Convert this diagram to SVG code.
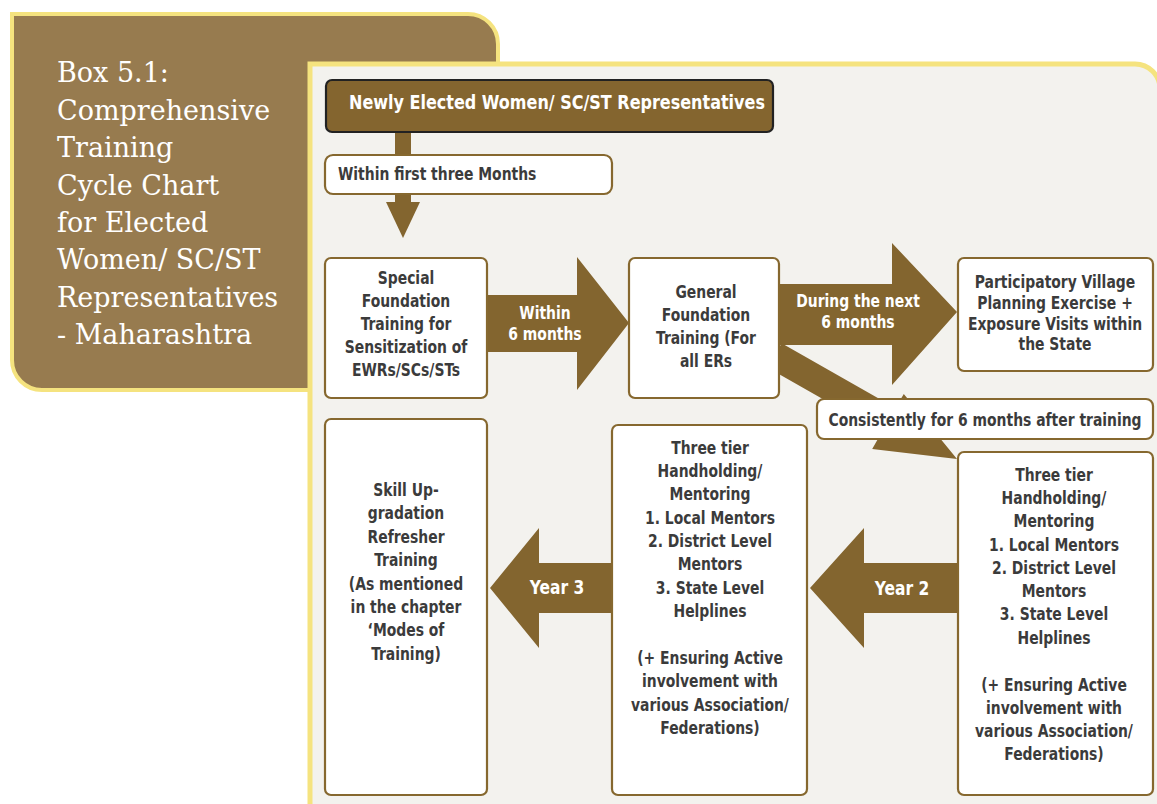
<svg xmlns="http://www.w3.org/2000/svg" width="1157" height="804" viewBox="0 0 1157 804">
<style>
.bx{fill:#ffffff;stroke:#86682f;stroke-width:2.2}
.ar{fill:#83652f}
.t{font-family:"DejaVu Sans Condensed","DejaVu Sans",sans-serif;font-weight:bold;font-size:18px;fill:#3b3b3b;text-anchor:middle}
.w{fill:#ffffff}
.s{text-anchor:start}
.ttl{font-family:"DejaVu Serif","Liberation Serif",serif;font-size:27px;fill:#ffffff}
</style>
<rect width="1157" height="804" fill="#ffffff"/>
<g id="title-box">
<path d="M12,14 H468 A30,30 0 0 1 498,44 V390 H42 A30,30 0 0 1 12,360 Z" fill="#977b4f" stroke="#f5e37f" stroke-width="4"/>
<text class="ttl" x="57"><tspan x="57" y="82">Box  5.1:</tspan><tspan x="57" y="120">Comprehensive</tspan><tspan x="57" y="157">Training</tspan><tspan x="57" y="195">Cycle Chart</tspan><tspan x="57" y="232">for Elected</tspan><tspan x="57" y="269">Women/ SC/ST</tspan><tspan x="57" y="307">Representatives</tspan><tspan x="57" y="344">- Maharashtra</tspan></text>
</g>
<g id="panel">
<path d="M310,64 H1135 A25,25 0 0 1 1160,89 V830 H335 A25,25 0 0 1 310,805 Z" fill="#f3f2ee" stroke="#f5e37f" stroke-width="5"/>
</g>
<g id="connectors">
<rect class="ar" x="395" y="130" width="16" height="30"/>
<rect class="ar" x="395" y="190" width="16" height="14"/>
<polygon class="ar" points="386,202 420,202 403,238"/>
<polygon class="ar" points="485,295 577,295 577,257 629,323 577,390 577,352 485,352"/>
<g transform="translate(545,0) scale(0.86,1)"><text class="t w"><tspan x="0" y="319">Within</tspan><tspan x="0" y="340">6 months</tspan></text></g>
<polygon class="ar" points="777,284 892,284 892,243 957,312 892,385 892,345 777,345"/>
<g transform="translate(858,0) scale(0.86,1)"><text class="t w"><tspan x="0" y="307">During the next</tspan><tspan x="0" y="328">6 months</tspan></text></g>
<polygon class="ar" points="781.6,343.3 895.4,408 903.8,394 957,459 872.2,448.9 881.6,432.4 767.8,367.7"/>
<polygon class="ar" points="960,563 864,563 864,528 810,588 864,648 864,613 960,613"/>
<g transform="translate(902,0) scale(0.86,1)"><text class="t w" x="0" y="595" style="font-size:20px">Year 2</text></g>
<polygon class="ar" points="614,563 539,563 539,528 490,588 539,648 539,613 614,613"/>
<g transform="translate(557,0) scale(0.86,1)"><text class="t w" x="0" y="594" style="font-size:20px">Year 3</text></g>
</g>
<g id="n-header">
<rect x="326" y="80" width="447" height="52" rx="6" fill="#84652f" stroke="#222222" stroke-width="2.2"/>
<g transform="translate(349,0) scale(0.89,1)"><text class="t w s" x="0" y="109" style="font-size:20px">Newly Elected Women/ SC/ST Representatives</text></g>
</g>
<g id="n-within-three">
<rect class="bx" x="325" y="155" width="287" height="39" rx="8"/>
<g transform="translate(338,0) scale(0.86,1)"><text class="t s" x="0" y="180">Within first three Months</text></g>
</g>
<g id="n-special">
<rect class="bx" x="325" y="258" width="162" height="140" rx="6"/>
<g transform="translate(406,0) scale(0.86,1)"><text class="t"><tspan x="0" y="284">Special</tspan><tspan x="0" y="307">Foundation</tspan><tspan x="0" y="330">Training for</tspan><tspan x="0" y="353">Sensitization of</tspan><tspan x="0" y="376">EWRs/SCs/STs</tspan></text></g>
</g>
<g id="n-general">
<rect class="bx" x="629" y="258" width="150" height="140" rx="6"/>
<g transform="translate(706,0) scale(0.86,1)"><text class="t"><tspan x="0" y="298">General</tspan><tspan x="0" y="321">Foundation</tspan><tspan x="0" y="344">Training (For</tspan><tspan x="0" y="367">all ERs</tspan></text></g>
</g>
<g id="n-participatory">
<rect class="bx" x="958" y="258" width="195" height="113" rx="6"/>
<g transform="translate(1055,0) scale(0.86,1)"><text class="t"><tspan x="0" y="288">Participatory Village</tspan><tspan x="0" y="309">Planning Exercise +</tspan><tspan x="0" y="330">Exposure Visits within</tspan><tspan x="0" y="350">the State</tspan></text></g>
</g>
<g id="n-consistently">
<rect class="bx" x="817" y="399" width="336" height="40" rx="7"/>
<g transform="translate(985,0) scale(0.86,1)"><text class="t" x="0" y="426">Consistently for 6 months after training</text></g>
</g>
<g id="n-mentor-right">
<rect class="bx" x="958" y="452" width="195" height="343" rx="6"/>
<g transform="translate(1054,0) scale(0.86,1)"><text class="t"><tspan x="0" y="481">Three tier</tspan><tspan x="0" y="504">Handholding/</tspan><tspan x="0" y="527">Mentoring</tspan><tspan x="0" y="551">1. Local Mentors</tspan><tspan x="0" y="574">2. District Level</tspan><tspan x="0" y="597">Mentors</tspan><tspan x="0" y="620">3. State Level</tspan><tspan x="0" y="644">Helplines</tspan><tspan x="0" y="691">(+ Ensuring Active</tspan><tspan x="0" y="714">involvement with</tspan><tspan x="0" y="737">various Association/</tspan><tspan x="0" y="760">Federations)</tspan></text></g>
</g>
<g id="n-mentor-mid">
<rect class="bx" x="612" y="425" width="195" height="370" rx="6"/>
<g transform="translate(710,0) scale(0.86,1)"><text class="t"><tspan x="0" y="454">Three tier</tspan><tspan x="0" y="477">Handholding/</tspan><tspan x="0" y="500">Mentoring</tspan><tspan x="0" y="524">1. Local Mentors</tspan><tspan x="0" y="547">2. District Level</tspan><tspan x="0" y="570">Mentors</tspan><tspan x="0" y="594">3. State Level</tspan><tspan x="0" y="617">Helplines</tspan><tspan x="0" y="664">(+ Ensuring Active</tspan><tspan x="0" y="687">involvement with</tspan><tspan x="0" y="711">various Association/</tspan><tspan x="0" y="734">Federations)</tspan></text></g>
</g>
<g id="n-skill">
<rect class="bx" x="325" y="419" width="162" height="376" rx="6"/>
<g transform="translate(406,0) scale(0.86,1)"><text class="t"><tspan x="0" y="496">Skill Up-</tspan><tspan x="0" y="519">gradation</tspan><tspan x="0" y="543">Refresher</tspan><tspan x="0" y="566">Training</tspan><tspan x="0" y="590">(As mentioned</tspan><tspan x="0" y="613">in the chapter</tspan><tspan x="0" y="636">‘Modes of</tspan><tspan x="0" y="660">Training)</tspan></text></g>
</g>
</svg>
